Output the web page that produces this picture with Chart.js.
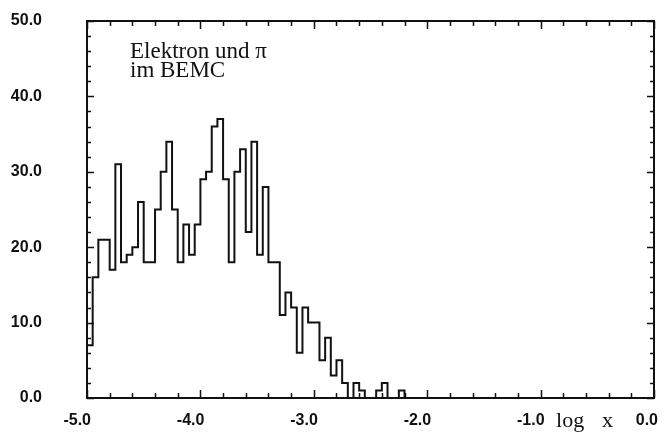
<!DOCTYPE html>
<html>
<head>
<meta charset="utf-8">
<script src="https://cdn.jsdelivr.net/npm/chart.js@4"></script>
<style>
  html, body { margin: 0; padding: 0; background: #fff; }
  #wrap { width: 664px; height: 434px; }
</style>
</head>
<body>
<div id="wrap"><canvas id="hist" width="664" height="434"></canvas></div>
<script>
// log x histogram, 100 bins of 0.05 from -5.0 to 0.0
var binStart = -5.0;
var binWidth = 0.05;
var counts = [
  7, 16, 21, 21, 17, 31, 18, 19, 20, 26,
  18, 18, 25, 30, 34, 25, 18, 23, 19, 23,
  29, 30, 36, 37, 29, 18, 30, 33, 22, 34,
  19, 28, 18, 18, 11, 14, 12, 6, 12, 10,
  10, 5, 8, 3, 5, 2, 0, 2, 1, 0,
  0, 1, 2, 0, 0, 1, 0, 0, 0, 0,
  0, 0, 0, 0, 0, 0, 0, 0, 0, 0,
  0, 0, 0, 0, 0, 0, 0, 0, 0, 0,
  0, 0, 0, 0, 0, 0, 0, 0, 0, 0,
  0, 0, 0, 0, 0, 0, 0, 0, 0, 0
];
var xTickLabels = ["-5.0", "-4.0", "-3.0", "-2.0", "-1.0", "0.0"];
var yTickLabels = ["0.0", "10.0", "20.0", "30.0", "40.0", "50.0"];
var axisTitle = "log x";
var noteLines = ["Elektron und \u03c0", "im BEMC"];

// step outline: one point per left bin edge, closed back to zero at the end
var points = [{ x: binStart, y: 0 }];
counts.forEach(function (c, i) {
  points.push({ x: binStart + i * binWidth, y: c });
});
points.push({ x: binStart + counts.length * binWidth, y: 0 });

var ink = "#111";
var labelFont = { family: "'Liberation Sans', Arial, sans-serif", size: 16, weight: "bold" };

// frame with inward ticks, axis title and the text box
var framePlugin = {
  id: "frame",
  afterDraw: function (chart) {
    var ctx = chart.ctx;
    var a = chart.chartArea;
    var xs = chart.scales.x;
    var ys = chart.scales.y;
    ctx.save();
    ctx.strokeStyle = ink;
    ctx.lineWidth = 2;
    ctx.strokeRect(a.left, a.top, a.right - a.left, a.bottom - a.top);

    ctx.lineWidth = 1.5;
    ctx.beginPath();
    for (var i = 0; i <= 25; i++) {
      var xv = -5 + i * 0.2;
      var px = Math.round(xs.getPixelForValue(xv)) + 0.5;
      var len = (i % 5 === 0) ? 8 : 5;
      ctx.moveTo(px, a.bottom);
      ctx.lineTo(px, a.bottom - len);
      ctx.moveTo(px, a.top);
      ctx.lineTo(px, a.top + len);
    }
    for (var j = 0; j <= 25; j++) {
      var yv = j * 2;
      var py = Math.round(ys.getPixelForValue(yv)) + 0.5;
      var ylen = (j % 5 === 0) ? 7 : 4;
      ctx.moveTo(a.left, py);
      ctx.lineTo(a.left + ylen, py);
      ctx.moveTo(a.right, py);
      ctx.lineTo(a.right - ylen, py);
    }
    ctx.stroke();

    ctx.fillStyle = ink;
    ctx.textBaseline = "alphabetic";
    ctx.textAlign = "left";
    ctx.font = "23px 'Liberation Serif', 'Times New Roman', serif";
    ctx.fillText(noteLines[0], a.left + 43, a.top + 37);
    ctx.fillText(noteLines[1], a.left + 43, a.top + 56);

    ctx.font = "22px 'Liberation Serif', 'Times New Roman', serif";
    ctx.textAlign = "center";
    var parts = axisTitle.split(" ");
    ctx.fillText(parts[0], xs.getPixelForValue(-0.74), a.bottom + 29);
    ctx.fillText(parts[1], xs.getPixelForValue(-0.41), a.bottom + 29);
    ctx.restore();
  }
};

var config = {
  type: "line",
  data: {
    datasets: [
      {
        data: points,
        stepped: true,
        borderColor: ink,
        borderWidth: 2,
        pointRadius: 0,
        fill: false,
        xAxisID: "x",
        yAxisID: "y",
      },
    ],
  },
  options: {
    responsive: false,
    animation: false,
    events: [],
    layout: { padding: 0 },
    plugins: {
      legend: { display: false },
      tooltip: { enabled: false },
    },
    scales: {
      x: {
        type: "linear",
        position: "bottom",
        min: -5,
        max: 0,
        // hidden tick marks only push the labels down
        grid: { display: false, drawTicks: true, tickLength: 13 },
        border: { display: false },
        ticks: {
          stepSize: 1,
          autoSkip: false,
          maxRotation: 0,
          align: "end",
          labelOffset: 4,
          padding: 0,
          color: ink,
          font: labelFont,
          callback: function (v, i) { return xTickLabels[i]; },
        },
        afterFit: function (s) { s.height = 36; },
      },
      x2: {
        type: "linear",
        position: "top",
        min: -5,
        max: 0,
        grid: { display: false, drawTicks: false },
        border: { display: false },
        ticks: { display: false },
        afterFit: function (s) { s.height = 21; },
      },
      y: {
        type: "linear",
        position: "left",
        min: 0,
        max: 50,
        grid: { display: false, drawTicks: true, tickLength: 45 },
        border: { display: false },
        ticks: {
          stepSize: 10,
          padding: 0,
          color: ink,
          font: labelFont,
          callback: function (v, i) { return yTickLabels[i]; },
        },
        afterFit: function (s) { s.width = 87; },
      },
      y2: {
        type: "linear",
        position: "right",
        min: 0,
        max: 50,
        grid: { display: false, drawTicks: false },
        border: { display: false },
        ticks: { display: false },
        afterFit: function (s) { s.width = 10; },
      },
    },
  },
  plugins: [framePlugin],
};

var hist_chart = new Chart(document.getElementById("hist").getContext("2d"), config);
</script>
</body>
</html>
